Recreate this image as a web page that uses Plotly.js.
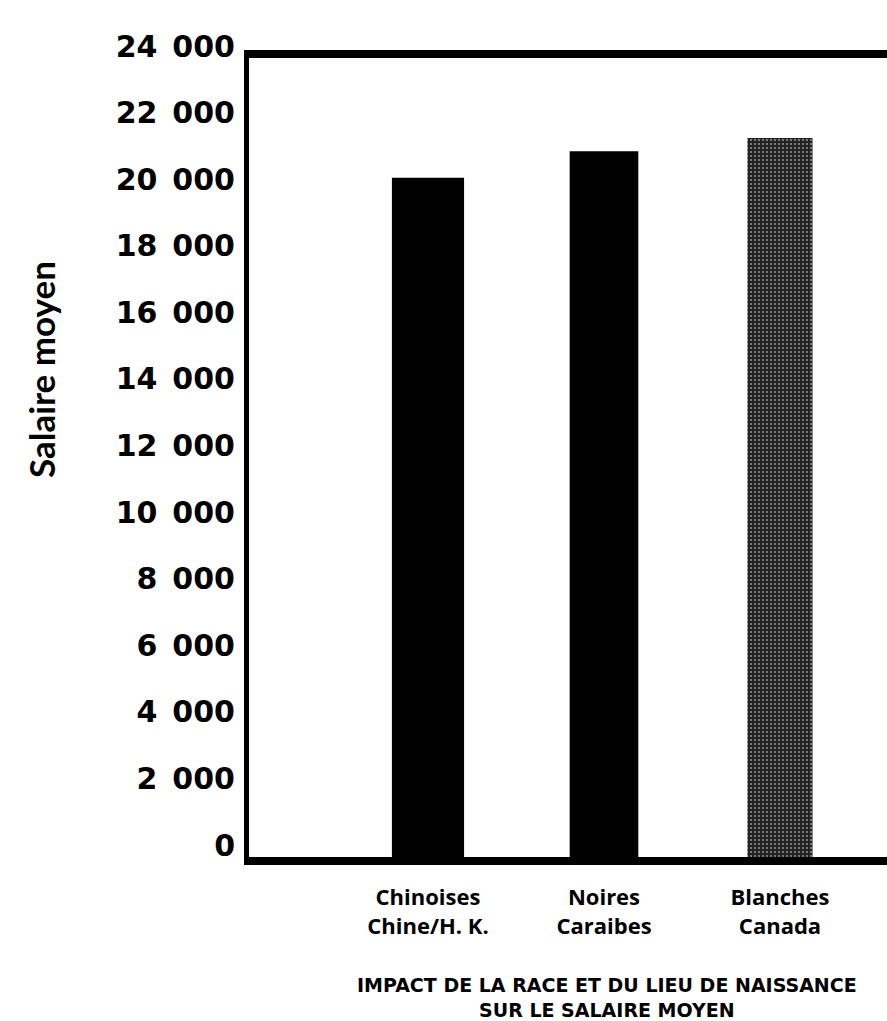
<!DOCTYPE html>
<html>
<head>
<meta charset="utf-8">
<script src="https://cdn.plot.ly/plotly-3.0.1.min.js"></script>
<style>html,body{margin:0;padding:0;background:#fff;}#chart{width:887px;height:1021px;}</style>
</head>
<body>
<div id="chart"></div>
<script>
const categories = ["Chinoises<br>Chine/H. K.", "Noires<br>Caraibes", "Blanches<br>Canada"];
const salaries = [20400, 21200, 21600];
const tickValues = [0, 2000, 4000, 6000, 8000, 10000, 12000, 14000, 16000, 18000, 20000, 22000, 24000];
const tickLabels = ["0", "2\u2002000", "4\u2002000", "6\u2002000", "8\u2002000", "10\u2002000", "12\u2002000", "14\u2002000", "16\u2002000", "18\u2002000", "20\u2002000", "22\u2002000", "24\u2002000"];
const yTitle = "Salaire moyen";
const chartTitle = "IMPACT DE LA RACE ET DU LIEU DE NAISSANCE<br>SUR LE SALAIRE MOYEN";

const trace = {
  type: "bar",
  x: categories,
  y: salaries,
  width: [0.41, 0.39, 0.37],
  marker: {
    color: ["#000000", "#000000", "#222222"],
    line: {width: 0},
    pattern: {
      shape: ["", "", "."],
      fillmode: "overlay",
      fgcolor: "#808080",
      size: 4,
      solidity: 0.22
    }
  },
  hoverinfo: "skip"
};

const layout = {
  width: 887,
  height: 1021,
  margin: {l: 249, r: 0, t: 58, b: 164},
  paper_bgcolor: "#ffffff",
  plot_bgcolor: "#ffffff",
  showlegend: false,
  xaxis: {
    type: "category",
    range: [-1.017, 2.608],
    showline: true,
    linecolor: "#000",
    linewidth: 8,
    mirror: true,
    showgrid: false,
    zeroline: false,
    ticks: "",
    ticklabelstandoff: 14,
    tickfont: {family: "Open Sans", size: 22, color: "#000", weight: 700}
  },
  yaxis: {
    range: [0, 24000],
    showline: true,
    linecolor: "#000",
    linewidth: 5,
    mirror: false,
    showgrid: false,
    zeroline: false,
    ticks: "",
    tickvals: tickValues,
    ticktext: tickLabels,
    ticklabelshift: -12,
    ticklabelstandoff: 3,
    tickfont: {family: "DejaVu Sans", size: 30, color: "#000", weight: 700}
  },
  annotations: [
    {
      text: yTitle,
      textangle: -90,
      xref: "paper", yref: "paper",
      x: -0.326, y: 0.6095,
      xanchor: "center", yanchor: "middle",
      showarrow: false,
      font: {family: "Lato", size: 35, color: "#000", weight: 700}
    },
    {
      text: chartTitle,
      xref: "paper", yref: "paper",
      x: 0.561, y: -0.144,
      xanchor: "center", yanchor: "top",
      showarrow: false,
      font: {family: "DejaVu Sans", size: 19, color: "#000", weight: 700}
    }
  ]
};

Plotly.newPlot("chart", [trace], layout, {displayModeBar: false, staticPlot: true});
</script>
</body>
</html>
